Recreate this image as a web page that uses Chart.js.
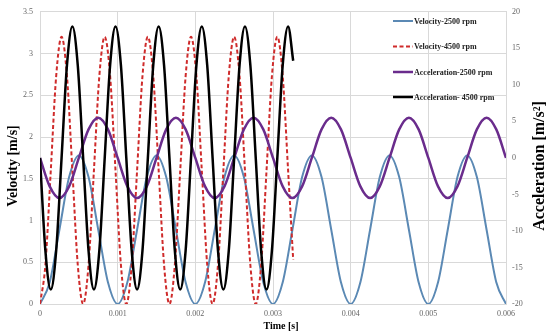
<!DOCTYPE html>
<html>
<head>
<meta charset="utf-8">
<script src="https://cdn.jsdelivr.net/npm/chart.js@4.4.1/dist/chart.umd.min.js"></script>
<style>
  html, body { margin: 0; padding: 0; background: #ffffff; }
  #wrap { width: 550px; height: 336px; position: relative; }
</style>
</head>
<body>
<div id="wrap"><canvas id="c" width="550" height="336"></canvas></div>
<script>
// ---------- DATA ----------
const seriesLabels = ['Velocity-2500 rpm', 'Velocity-4500 rpm', 'Acceleration-2500 rpm', 'Acceleration- 4500 rpm'];

// time samples for the 2500 rpm curves [s]
const time2500 = [
  0, 0.000125, 0.00025, 0.000375, 0.0005, 0.000625, 0.00075, 0.000875,
  0.001, 0.001125, 0.00125, 0.001375, 0.0015, 0.001625, 0.00175, 0.001875,
  0.002, 0.002125, 0.00225, 0.002375, 0.0025, 0.002625, 0.00275, 0.002875,
  0.003, 0.003125, 0.00325, 0.003375, 0.0035, 0.003625, 0.00375, 0.003875,
  0.004, 0.004125, 0.00425, 0.004375, 0.0045, 0.004625, 0.00475, 0.004875,
  0.005, 0.005125, 0.00525, 0.005375, 0.0055, 0.005625, 0.00575, 0.005875,
  0.006
];
// Velocity-2500 rpm [m/s]
const velocity2500 = [
  0, 0.26, 0.89, 1.52, 1.78, 1.52, 0.89, 0.26,
  0, 0.26, 0.89, 1.52, 1.78, 1.52, 0.89, 0.26,
  0, 0.26, 0.89, 1.52, 1.78, 1.52, 0.89, 0.26,
  0, 0.26, 0.89, 1.52, 1.78, 1.52, 0.89, 0.26,
  0, 0.26, 0.89, 1.52, 1.78, 1.52, 0.89, 0.26,
  0, 0.26, 0.89, 1.52, 1.78, 1.52, 0.89, 0.26,
  0
];
// Acceleration-2500 rpm [m/s^2]
const acceleration2500 = [
  0, -3.9, -5.5, -3.9, 0, 3.9, 5.5, 3.9,
  0, -3.9, -5.5, -3.9, 0, 3.9, 5.5, 3.9,
  0, -3.9, -5.5, -3.9, 0, 3.9, 5.5, 3.9,
  0, -3.9, -5.5, -3.9, 0, 3.9, 5.5, 3.9,
  0, -3.9, -5.5, -3.9, 0, 3.9, 5.5, 3.9,
  0, -3.9, -5.5, -3.9, 0, 3.9, 5.5, 3.9,
  0
];

// time samples for the 4500 rpm curves [s]
const time4500 = [
  0, 0.0000694, 0.0001389, 0.0002083, 0.0002778, 0.0003472, 0.0004167, 0.0004861,
  0.0005556, 0.000625, 0.0006944, 0.0007639, 0.0008333, 0.0009028, 0.0009722, 0.0010417,
  0.0011111, 0.0011806, 0.00125, 0.0013194, 0.0013889, 0.0014583, 0.0015278, 0.0015972,
  0.0016667, 0.0017361, 0.0018056, 0.001875, 0.0019444, 0.0020139, 0.0020833, 0.0021528,
  0.0022222, 0.0022917, 0.0023611, 0.0024306, 0.0025, 0.0025694, 0.0026389, 0.0027083,
  0.0027778, 0.0028472, 0.0029167, 0.0029861, 0.0030556, 0.003125, 0.0031944, 0.00326
];
// Velocity-4500 rpm [m/s]
const velocity4500 = [
  0, 0.47, 1.6, 2.73, 3.2, 2.73, 1.6, 0.47,
  0, 0.47, 1.6, 2.73, 3.2, 2.73, 1.6, 0.47,
  0, 0.47, 1.6, 2.73, 3.2, 2.73, 1.6, 0.47,
  0, 0.47, 1.6, 2.73, 3.2, 2.73, 1.6, 0.47,
  0, 0.47, 1.6, 2.73, 3.2, 2.73, 1.6, 0.47,
  0, 0.47, 1.6, 2.73, 3.2, 2.73, 1.6, 0.53
];
// Acceleration-4500 rpm [m/s^2]
const acceleration4500 = [
  0, -12.7, -18, -12.7, 0, 12.7, 18, 12.7,
  0, -12.7, -18, -12.7, 0, 12.7, 18, 12.7,
  0, -12.7, -18, -12.7, 0, 12.7, 18, 12.7,
  0, -12.7, -18, -12.7, 0, 12.7, 18, 12.7,
  0, -12.7, -18, -12.7, 0, 12.7, 18, 12.7,
  0, -12.7, -18, -12.7, 0, 12.7, 18, 13.3
];

// tick labels
const xTickLabels = ['0', '0.001', '0.002', '0.003', '0.004', '0.005', '0.006'];
const yLeftTickLabels = ['0', '0.5', '1', '1.5', '2', '2.5', '3', '3.5'];
const yRightTickLabels = ['-20', '-15', '-10', '-5', '0', '5', '10', '15', '20'];

const xTitle = 'Time [s]';
const yLeftTitle = 'Velocity [m/s]';
const yRightTitle = 'Acceleration [m/s\u00B2]';

// ---------- CHART ----------
const pts = (xs, ys) => xs.map((x, i) => ({ x: x, y: ys[i] }));
const SERIF = '"Liberation Serif", "Times New Roman", serif';

const datasets = [
  { label: seriesLabels[0], data: pts(time2500, velocity2500), yAxisID: 'y',
    borderColor: '#5b89b4', borderWidth: 2, order: 4 },
  { label: seriesLabels[1], data: pts(time4500, velocity4500), yAxisID: 'y',
    borderColor: '#cf2b2b', borderWidth: 2, borderDash: [4, 2.5], order: 3 },
  { label: seriesLabels[2], data: pts(time2500, acceleration2500), yAxisID: 'y2',
    borderColor: '#6a2c8c', borderWidth: 2.5, order: 2 },
  { label: seriesLabels[3], data: pts(time4500, acceleration4500), yAxisID: 'y2',
    borderColor: '#000000', borderWidth: 2.5, order: 1 }
];
datasets.forEach(d => {
  d.pointRadius = 0;
  d.fill = false;
  d.cubicInterpolationMode = 'monotone';
});

const titlesAndLegend = {
  id: 'titlesAndLegend',
  afterDraw(chart) {
    const ctx = chart.ctx;
    ctx.save();
    ctx.fillStyle = '#000';
    ctx.textAlign = 'center';
    ctx.textBaseline = 'middle';
    // left title
    ctx.save();
    ctx.translate(13, 166);
    ctx.rotate(-Math.PI / 2);
    ctx.font = 'bold 14px ' + SERIF;
    ctx.fillText(yLeftTitle, 0, 0);
    ctx.restore();
    // right title
    ctx.save();
    ctx.translate(540, 166);
    ctx.rotate(-Math.PI / 2);
    ctx.font = 'bold 16px ' + SERIF;
    ctx.fillText(yRightTitle, 0, 0);
    ctx.restore();
    // x title
    ctx.font = 'bold 10px ' + SERIF;
    ctx.fillText(xTitle, 281, 326);

    // legend (inside plot, top right)
    const rows = [21, 46.5, 72, 97];
    ctx.font = 'bold 8px ' + SERIF;
    ctx.textAlign = 'left';
    chart.data.datasets.forEach((ds, i) => {
      const y = rows[i];
      ctx.save();
      ctx.strokeStyle = ds.borderColor;
      ctx.lineWidth = ds.borderWidth;
      ctx.setLineDash(ds.borderDash || []);
      ctx.beginPath();
      ctx.moveTo(393, y);
      ctx.lineTo(413, y);
      ctx.stroke();
      ctx.restore();
      ctx.fillStyle = '#222';
      ctx.fillText(ds.label, 414, y + 0.5);
    });
    ctx.restore();
  }
};

const tickFont = { family: SERIF, size: 8 };
const gridColor = '#d9d9d9';
const tickColor = '#666666';

new Chart(document.getElementById('c'), {
  type: 'line',
  data: { datasets: datasets },
  options: {
    responsive: false,
    animation: false,
    devicePixelRatio: 1,
    layout: { padding: { top: 8, left: 0, right: 0, bottom: 0 } },
    plugins: { legend: { display: false }, tooltip: { enabled: false } },
    scales: {
      x: {
        type: 'linear', min: 0, max: 0.006,
        afterFit: s => { s.height = 32; },
        ticks: { stepSize: 0.001, font: tickFont, color: tickColor, padding: 5,
                 maxRotation: 0, autoSkip: false,
                 callback: (v, i) => xTickLabels[i] },
        grid: { color: gridColor, drawTicks: false },
        border: { color: gridColor }
      },
      y: {
        type: 'linear', position: 'left', min: 0, max: 3.5,
        afterFit: s => { s.width = 40; },
        ticks: { stepSize: 0.5, font: tickFont, color: tickColor, padding: 7,
                 callback: (v, i) => yLeftTickLabels[i] },
        grid: { color: gridColor, drawTicks: false },
        border: { color: gridColor }
      },
      y2: {
        type: 'linear', position: 'right', min: -20, max: 20,
        afterFit: s => { s.width = 44; },
        ticks: { stepSize: 5, font: tickFont, color: tickColor, padding: 6,
                 callback: (v, i) => yRightTickLabels[i] },
        grid: { drawOnChartArea: false, drawTicks: false },
        border: { color: gridColor }
      }
    }
  },
  plugins: [titlesAndLegend]
});
</script>
</body>
</html>
